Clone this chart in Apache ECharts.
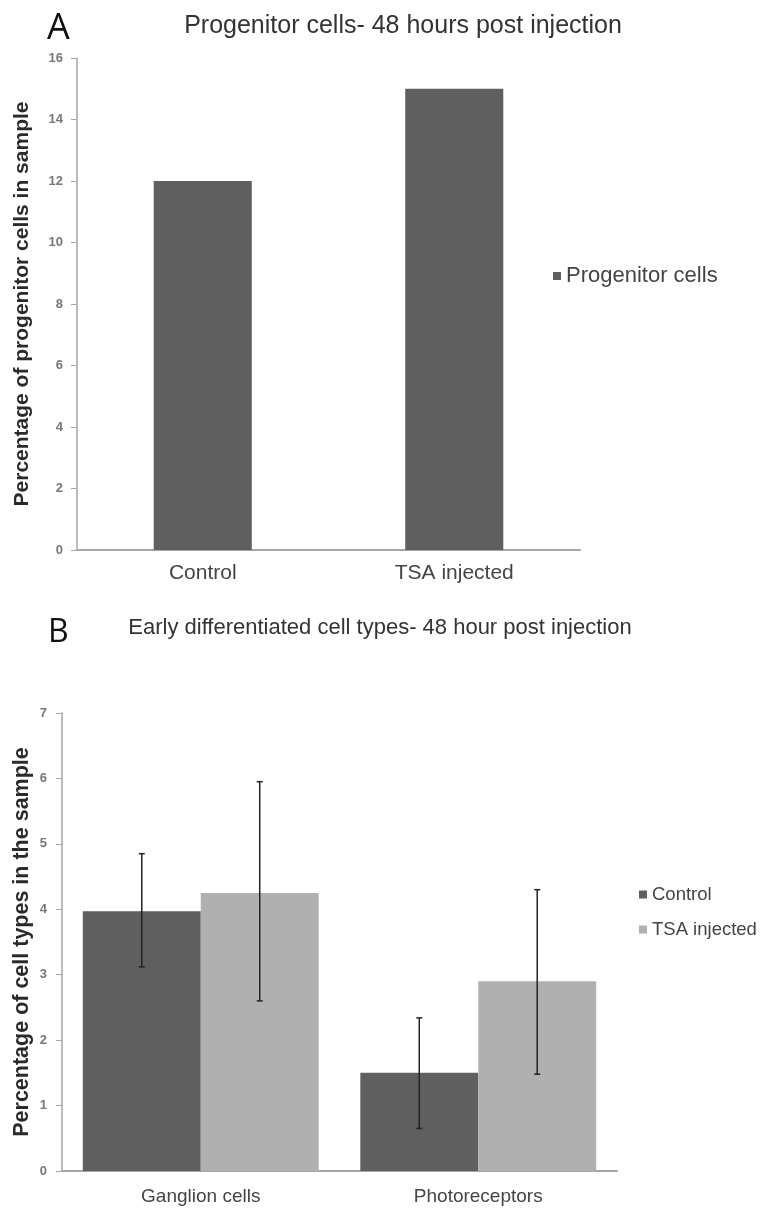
<!DOCTYPE html>
<html>
<head>
<meta charset="utf-8">
<script src="https://cdn.jsdelivr.net/npm/echarts@6/dist/echarts.min.js"></script>
<style>
  html, body { margin: 0; padding: 0; background: #fff; }
  #chart { width: 761px; height: 1211px; }
</style>
</head>
<body>
<div id="chart"></div>
<script>
// panel A
const catsA = ["Control", "TSA injected"];
const progenitor = [12, 15];
const ticksA = { min: 0, max: 16, step: 2 };

// panel B
const catsB = ["Ganglion cells", "Photoreceptors"];
const controlVals = [3.97, 1.5];
const tsaVals = [4.25, 2.9];
// error bar ranges [low, high]
const controlErr = [[3.12, 4.85], [0.65, 2.34]];
const tsaErr = [[2.6, 5.95], [1.48, 4.3]];
const ticksB = { min: 0, max: 7, step: 1 };

const gapB = 0.15; // barCategoryGap for panel B

const chart = echarts.init(document.getElementById("chart"));

// error bars; side -1 = control bar, +1 = TSA bar
function errorBars(side) {
  return function (params, api) {
    const idx = api.value(0);
    const lo = api.coord([idx, api.value(1)]);
    const hi = api.coord([idx, api.value(2)]);
    const band = api.size([1, 0])[0];
    const off = side * band * (1 - gapB) / 4;
    const x = lo[0] + off;
    const cap = 3;
    const st = { stroke: "#222", lineWidth: 1.5 };
    return {
      type: "group",
      children: [
        { type: "line", shape: { x1: x, y1: lo[1], x2: x, y2: hi[1] }, style: st },
        { type: "line", shape: { x1: x - cap, y1: lo[1], x2: x + cap, y2: lo[1] }, style: st },
        { type: "line", shape: { x1: x - cap, y1: hi[1], x2: x + cap, y2: hi[1] }, style: st },
      ],
    };
  };
}

const axisGray = "#a6a6a6";
const yLabelStyle = { fontSize: 13, fontWeight: "bold", color: "#777", fontFamily: "Liberation Sans" };

const option = {
  backgroundColor: "#fff",
  animation: false,
  title: [
    { text: "A", left: 42, top: 6, textStyle: { fontSize: 36, fontWeight: "normal", color: "#111", fontFamily: "Open Sans" } },
    { text: "Progenitor cells- 48 hours post injection", left: 398, top: 9, textAlign: "center",
      textStyle: { fontSize: 25, fontWeight: "normal", color: "#333", fontFamily: "Liberation Sans" } },
    { text: "B", left: 43, top: 612, textStyle: { fontSize: 32, fontWeight: "normal", color: "#111", fontFamily: "Open Sans" } },
    { text: "Early differentiated cell types- 48 hour post injection", left: 375, top: 612, textAlign: "center",
      textStyle: { fontSize: 22, fontWeight: "normal", color: "#333", fontFamily: "Liberation Sans" } },
  ],
  legend: [
    { data: ["Progenitor cells"], left: 548, top: 260, itemWidth: 8, itemHeight: 8, itemGap: 10,
      icon: "rect", textStyle: { fontSize: 22, color: "#444", fontFamily: "Liberation Sans" } },
    { data: ["Control", "TSA injected"], orient: "vertical", left: 634, top: 880, itemWidth: 8, itemHeight: 8,
      itemGap: 16, icon: "rect", textStyle: { fontSize: 18.5, color: "#444", fontFamily: "Liberation Sans" } },
  ],
  grid: [
    { left: 77, right: 181, top: 58, bottom: 661 },
    { left: 62, right: 144, top: 713, bottom: 40 },
  ],
  xAxis: [
    { type: "category", gridIndex: 0, data: catsA,
      axisLine: { lineStyle: { color: axisGray, width: 2 } },
      axisTick: { length: 6, lineStyle: { color: axisGray } },
      axisLabel: { margin: 13, fontSize: 21, color: "#444", fontFamily: "Liberation Sans" } },
    { type: "category", gridIndex: 1, data: catsB,
      axisLine: { lineStyle: { color: axisGray, width: 2 } },
      axisTick: { length: 6, lineStyle: { color: axisGray } },
      axisLabel: { margin: 16, fontSize: 19, color: "#444", fontFamily: "Liberation Sans" } },
  ],
  yAxis: [
    { type: "value", gridIndex: 0, min: ticksA.min, max: ticksA.max, interval: ticksA.step,
      name: "Percentage of progenitor cells in sample", nameLocation: "middle", nameGap: 44,
      nameMoveOverlap: false,
      nameTextStyle: { fontSize: 21, fontWeight: "bold", color: "#2a2a2a", fontFamily: "Liberation Sans" },
      axisLine: { show: true, lineStyle: { color: axisGray, width: 1.5 } },
      axisTick: { show: true, length: 6, lineStyle: { color: axisGray } },
      axisLabel: Object.assign({ margin: 14 }, yLabelStyle),
      splitLine: { show: false } },
    { type: "value", gridIndex: 1, min: ticksB.min, max: ticksB.max, interval: ticksB.step,
      name: "Percentage of cell types in the sample", nameLocation: "middle", nameGap: 29,
      nameMoveOverlap: false,
      nameTextStyle: { fontSize: 21.5, fontWeight: "bold", color: "#2a2a2a", fontFamily: "Liberation Sans" },
      axisLine: { show: true, lineStyle: { color: axisGray, width: 1.5 } },
      axisTick: { show: true, length: 6, lineStyle: { color: axisGray } },
      axisLabel: Object.assign({ margin: 15 }, yLabelStyle),
      splitLine: { show: false } },
  ],
  series: [
    { name: "Progenitor cells", type: "bar", xAxisIndex: 0, yAxisIndex: 0, barWidth: "39%",
      itemStyle: { color: "#5f5f5f" }, data: progenitor },
    { name: "Control", type: "bar", xAxisIndex: 1, yAxisIndex: 1, barGap: 0, barCategoryGap: gapB * 100 + "%",
      itemStyle: { color: "#5f5f5f" }, data: controlVals },
    { name: "TSA injected", type: "bar", xAxisIndex: 1, yAxisIndex: 1, barGap: 0, barCategoryGap: gapB * 100 + "%",
      itemStyle: { color: "#b0b0b0" }, data: tsaVals },
    { type: "custom", xAxisIndex: 1, yAxisIndex: 1, z: 10, renderItem: errorBars(-1),
      data: controlErr.map((r, i) => [i, r[0], r[1]]) },
    { type: "custom", xAxisIndex: 1, yAxisIndex: 1, z: 10, renderItem: errorBars(1),
      data: tsaErr.map((r, i) => [i, r[0], r[1]]) },
  ],
};

chart.setOption(option);
window.onresize = function () {
  chart.resize();
};
</script>
</body>
</html>
